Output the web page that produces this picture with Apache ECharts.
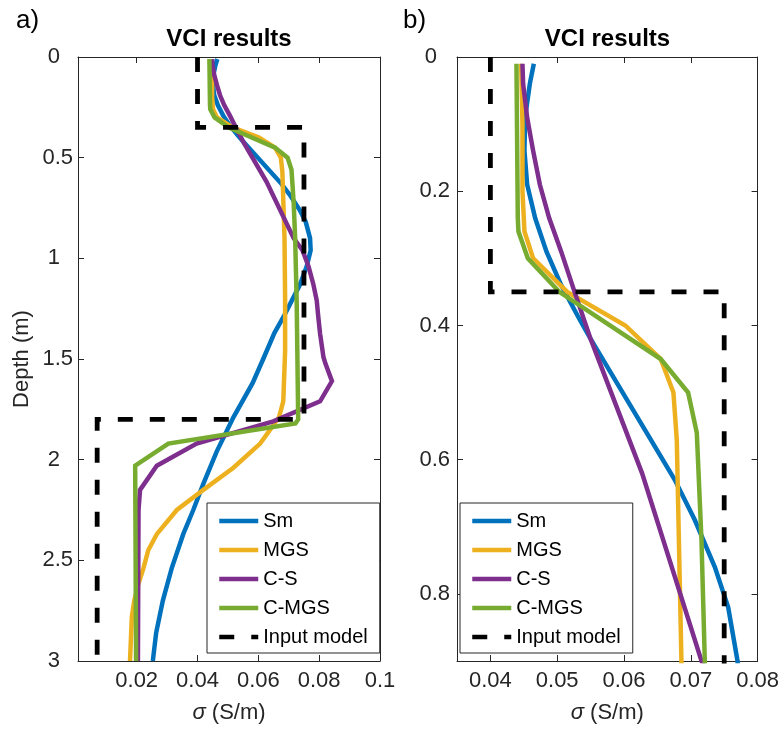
<!DOCTYPE html>
<html>
<head>
<meta charset="utf-8">
<script src="https://cdn.jsdelivr.net/npm/echarts@6/dist/echarts.min.js"></script>
<style>
  html, body { margin: 0; padding: 0; background: #fff; }
  #chart { width: 782px; height: 731px; }
</style>
</head>
<body>
<div id="chart"></div>
<script>
// ---------------- data (sigma in S/m, depth in m) ----------------
const seriesNames = ['Sm', 'MGS', 'C-S', 'C-MGS', 'Input model'];

const smDepth = [0.01,0.04,0.09,0.14,0.19,0.24,0.29,0.34,0.39,0.42,0.63,0.69,0.76,0.82,0.90,0.96,1.04,1.13,1.21,1.29,1.37,1.50,1.62,1.79,1.96,2.12,2.25,2.37,2.54,2.70,2.86,3.00];
const smSigma = [0.0465,0.0459,0.0452,0.0451,0.0455,0.0467,0.0484,0.0506,0.0533,0.0550,0.0676,0.0706,0.0736,0.0756,0.0770,0.0772,0.0759,0.0737,0.0710,0.0683,0.0653,0.0616,0.0581,0.0518,0.0463,0.0419,0.0386,0.0353,0.0315,0.0286,0.0264,0.0253];

const mgsDepth = [0.01,0.10,0.20,0.26,0.30,0.35,0.40,0.45,0.50,0.57,0.90,1.20,1.46,1.71,1.79,1.92,2.04,2.15,2.25,2.37,2.45,2.54,2.62,2.70,2.78,3.00];
const mgsSigma = [0.0446,0.0448,0.0448,0.0451,0.0464,0.0515,0.0602,0.0655,0.0674,0.0679,0.0686,0.0688,0.0688,0.0682,0.0668,0.0606,0.0518,0.0419,0.0332,0.0266,0.0238,0.0222,0.0205,0.0192,0.0184,0.0178];

const csDepth = [0.01,0.04,0.09,0.14,0.19,0.24,0.29,0.35,0.42,0.62,0.90,0.96,1.04,1.13,1.21,1.29,1.375,1.49,1.52,1.61,1.71,1.81,1.92,2.03,2.15,2.25,3.00];
const csSigma = [0.0448,0.0449,0.0455,0.0464,0.0474,0.0488,0.0506,0.0526,0.0550,0.0627,0.0716,0.0745,0.0765,0.0781,0.0792,0.0797,0.0803,0.0814,0.0820,0.0842,0.0803,0.0649,0.0397,0.0266,0.0211,0.0206,0.0204];

const cmgsDepth = [0.01,0.24,0.26,0.30,0.35,0.45,0.50,0.56,0.72,0.90,1.21,1.80,1.82,1.92,2.03,3.00];
const cmgsSigma = [0.0439,0.0441,0.0442,0.0456,0.0503,0.0655,0.0696,0.0709,0.0716,0.0721,0.0726,0.0731,0.0722,0.0304,0.0195,0.0198];

const inputDepth = [0, 0.35, 0.35, 1.8, 1.8, 3];
const inputSigma = [0.04, 0.04, 0.075, 0.075, 0.007, 0.007];

// tick labels
const leftXTicks  = [0.02, 0.04, 0.06, 0.08, 0.1];
const leftYTicks  = [0, 0.5, 1, 1.5, 2, 2.5, 3];
const rightXTicks = [0.04, 0.05, 0.06, 0.07, 0.08];
const rightYTicks = [0, 0.2, 0.4, 0.6, 0.8];

// ---------------- styling ----------------
const FONT = '"Liberation Sans", Arial, Helvetica, sans-serif';
const AX = '#262626';
const colors = ['#0072BD', '#EDB120', '#7E2F8E', '#77AC30', '#000000'];
const depths = [smDepth, mgsDepth, csDepth, cmgsDepth, inputDepth];
const sigmas = [smSigma, mgsSigma, csSigma, cmgsSigma, inputSigma];

function pairs(d, s) { return d.map((v, i) => [s[i], v]); }

const panels = [
  { left: 78,  width: 302, xMin: 0.0007, xMax: 0.1,  yMax: 3,   xTicks: leftXTicks,  yTicks: leftYTicks,  yMargin: 5, yName: 'Depth (m)', legendLeft: 207, title: 'VCI results', tag: 'a)', tagX: 16 },
  { left: 457, width: 301, xMin: 0.035,  xMax: 0.08, yMax: 0.9, xTicks: rightXTicks, yTicks: rightYTicks, yMargin: 7, yName: '',          legendLeft: 460, title: 'VCI results', tag: 'b)', tagX: 403 }
];

const grid = [], xAxis = [], yAxis = [], series = [], legend = [], graphic = [];

function yLabelFmt(v) {
  return Number.isInteger(v) ? '{p|' + v + '}' : String(v);
}

panels.forEach((p, g) => {
  grid.push({ left: p.left, top: 57, width: p.width, height: 604, containLabel: false });
  const tick = { show: true, inside: true, length: 6, lineStyle: { color: AX, width: 1 } };
  const line = { show: true, onZero: false, lineStyle: { color: AX, width: 1 } };
  const lab = { color: AX, fontSize: 22, fontFamily: FONT };
  // bottom x
  xAxis.push({
    gridIndex: g, type: 'value', position: 'bottom', min: p.xMin, max: p.xMax,
    axisLine: line, axisTick: Object.assign({}, tick, { customValues: p.xTicks }),
    axisLabel: Object.assign({}, lab, { margin: 9, customValues: p.xTicks }),
    splitLine: { show: false },
    name: '{s|σ} (S/m)', nameLocation: 'middle', nameGap: 41,
    nameTextStyle: { color: AX, fontSize: 22, fontFamily: FONT,
      rich: { s: { fontStyle: 'italic', fontSize: 22, fontFamily: FONT, color: AX } } }
  });
  // top x (ticks only)
  xAxis.push({
    gridIndex: g, type: 'value', position: 'top', min: p.xMin, max: p.xMax,
    axisLine: line, axisTick: Object.assign({}, tick, { customValues: p.xTicks }),
    axisLabel: { show: false }, splitLine: { show: false }
  });
  // left y
  yAxis.push({
    gridIndex: g, type: 'value', position: 'left', inverse: true, min: 0, max: p.yMax,
    axisLine: line, axisTick: Object.assign({}, tick, { customValues: p.yTicks }),
    axisLabel: Object.assign({}, lab, { margin: p.yMargin, customValues: p.yTicks, formatter: yLabelFmt,
      rich: { p: { padding: [0, 13, 0, 0], fontSize: 22, fontFamily: FONT, color: AX } } }),
    splitLine: { show: false },
    name: p.yName, nameLocation: 'middle', nameGap: 45,
    nameTextStyle: { color: AX, fontSize: 22, fontFamily: FONT }
  });
  // right y (ticks only)
  yAxis.push({
    gridIndex: g, type: 'value', position: 'right', inverse: true, min: 0, max: p.yMax,
    axisLine: line, axisTick: Object.assign({}, tick, { customValues: p.yTicks }),
    axisLabel: { show: false }, splitLine: { show: false }
  });

  seriesNames.forEach((name, i) => {
    const dashed = (i === 4);
    series.push({
      name: name, type: 'line', xAxisIndex: g * 2, yAxisIndex: g * 2,
      data: pairs(depths[i], sigmas[i]),
      symbol: 'none', showSymbol: false, clip: true, z: 2 + i,
      lineStyle: { color: colors[i], width: dashed ? 4.8 : 4.5, type: dashed ? [15, 17] : 'solid', cap: 'butt', join: 'miter' },
      itemStyle: { color: colors[i] },
      emphasis: { disabled: true }
    });
  });

  legend.push({
    data: seriesNames, orient: 'vertical', left: p.legendLeft, top: 503,
    backgroundColor: '#ffffff', borderColor: AX, borderWidth: 1, borderRadius: 0,
    padding: [8, 12, 6, 10], itemGap: 9, itemWidth: 39, itemHeight: 20,
    lineStyle: { width: 4.5 },
    itemStyle: { opacity: 0 },
    textStyle: { fontSize: 20, fontFamily: FONT, color: '#000' },
    selectedMode: false
  });

  const cx = p.left + p.width / 2;
  graphic.push({
    type: 'text', x: cx, y: 39, z: 100,
    style: { text: p.title, font: 'bold 24px ' + FONT, fill: '#000',
      align: 'center', verticalAlign: 'middle', textAlign: 'center', textVerticalAlign: 'middle' }
  });
  graphic.push({
    type: 'text', x: p.tagX, y: 21, z: 100,
    style: { text: p.tag, font: '26px ' + FONT, fill: '#000',
      align: 'left', verticalAlign: 'middle', textAlign: 'left', textVerticalAlign: 'middle' }
  });
});

const chart = echarts.init(document.getElementById('chart'), null, { renderer: 'canvas' });
chart.setOption({
  animation: false,
  backgroundColor: '#ffffff',
  grid: grid, xAxis: xAxis, yAxis: yAxis, series: series, legend: legend, graphic: graphic
});
</script>
</body>
</html>
